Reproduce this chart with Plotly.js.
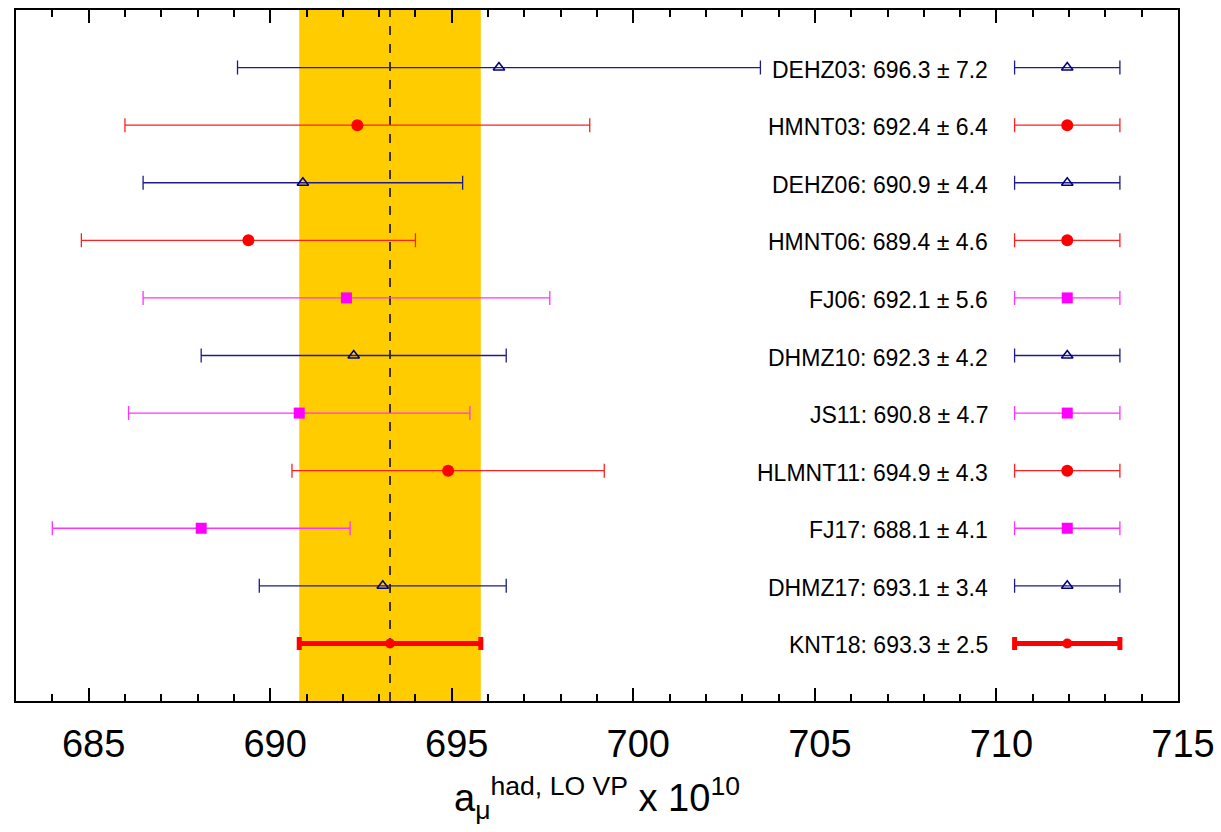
<!DOCTYPE html>
<html>
<head>
<meta charset="utf-8">
<script src="https://cdn.plot.ly/plotly-3.0.1.min.js"></script>
<style>html,body{margin:0;padding:0;background:#fff;}#chart{width:1221px;height:832px;}</style>
</head>
<body>
<div id="chart"></div>
<script>
// Data
const names  = ["DEHZ03","HMNT03","DEHZ06","HMNT06","FJ06","DHMZ10","JS11","HLMNT11","FJ17","DHMZ17","KNT18"];
const values = [696.3, 692.4, 690.9, 689.4, 692.1, 692.3, 690.8, 694.9, 688.1, 693.1, 693.3];
const errors = [7.2, 6.4, 4.4, 4.6, 5.6, 4.2, 4.7, 4.3, 4.1, 3.4, 2.5];
const groups = ["blue","red","blue","red","mag","blue","mag","red","mag","blue","knt"];
const keyCenter = 711.95;
const keyHalf = 1.45;
const xTicks = [685, 690, 695, 700, 705, 710, 715];

const styles = {
  blue: {line:'#1c1c8a', lw:1.3, cap:7, marker:{symbol:'triangle-up-open', size:10, color:'#000080', line:{width:1.5, color:'#000080'}}},
  red:  {line:'#ff2020', lw:1.3, cap:7, marker:{symbol:'circle', size:12, color:'#ff0000', line:{width:0}}},
  mag:  {line:'#ff33ff', lw:1.3, cap:7, marker:{symbol:'square', size:11, color:'#ff00ff', line:{width:0}}},
  knt:  {line:'#ff0000', lw:5, cap:6.5, marker:{symbol:'circle', size:10, color:'#ff0000', line:{width:0}}}
};

const traces = [];
Object.keys(styles).forEach(g => {
  const idx = names.map((n,i)=>i).filter(i => groups[i] === g);
  const s = styles[g];
  traces.push({
    type:'scatter', mode:'markers',
    x: idx.map(i => values[i]), y: idx.map(i => names[i]),
    error_x: {type:'data', array: idx.map(i => errors[i]), visible:true, color:s.line, thickness:s.lw, width:s.cap},
    marker: s.marker, showlegend:false, hoverinfo:'skip', cliponaxis:false
  });
  traces.push({
    type:'scatter', mode:'markers',
    x: idx.map(i => keyCenter), y: idx.map(i => names[i]),
    error_x: {type:'data', array: idx.map(i => keyHalf), visible:true, color:s.line, thickness:s.lw, width:s.cap},
    marker: s.marker, showlegend:false, hoverinfo:'skip', cliponaxis:false
  });
});

const kIdx = names.indexOf("KNT18");
const kVal = values[kIdx], kErr = errors[kIdx];

const annotations = names.map((n,i) => ({
  x: 709.83, y: n, xref:'x', yref:'y', xanchor:'right', yanchor:'middle', yshift:-2,
  text: n + ': ' + values[i].toFixed(1) + ' ± ' + errors[i].toFixed(1),
  showarrow:false, font:{size:23, color:'#000', family:'"Liberation Sans", Arial, sans-serif'}
}));

const layout = {
  width:1221, height:832,
  margin:{l:16, r:43, t:10, b:131, pad:0},
  paper_bgcolor:'#fff', plot_bgcolor:'#fff',
  font:{family:'"Liberation Sans", Arial, Helvetica, sans-serif', color:'#000'},
  xaxis:{
    range:[683, 715], tickvals:xTicks, ticktext:xTicks.map(String),
    ticks:'inside', ticklen:13, tickwidth:2, tickcolor:'#000',
    minor:{dtick:1, ticks:'inside', ticklen:7, tickwidth:2, tickcolor:'#000'},
    showline:true, linewidth:2, linecolor:'#000', mirror:'allticks',
    showgrid:false, zeroline:false,
    tickfont:{size:38, color:'#000'}, ticklabelshift:5, ticklabelstandoff:8,
    title:{text:'a<sub>μ</sub><sup>had, LO VP</sup> x 10<sup>10</sup>', font:{size:38, color:'#000'}, standoff:21}
  },
  yaxis:{
    type:'category', categoryorder:'array', categoryarray:names.slice().reverse(),
    range:[-1, 11], showticklabels:false, ticks:'',
    showline:true, linewidth:2, linecolor:'#000', mirror:true,
    showgrid:false, zeroline:false
  },
  shapes:[
    {type:'rect', xref:'x', yref:'paper', x0:kVal-kErr, x1:kVal+kErr, y0:0, y1:1, fillcolor:'#ffcc00', line:{width:0}, layer:'below'},
    {type:'line', xref:'x', yref:'paper', x0:kVal, x1:kVal, y0:0, y1:1, line:{color:'#000', width:1.5, dash:'dash'}, layer:'below'}
  ],
  annotations: annotations,
  showlegend:false
};

Plotly.newPlot('chart', traces, layout, {staticPlot:true, displayModeBar:false});
</script>
</body>
</html>
